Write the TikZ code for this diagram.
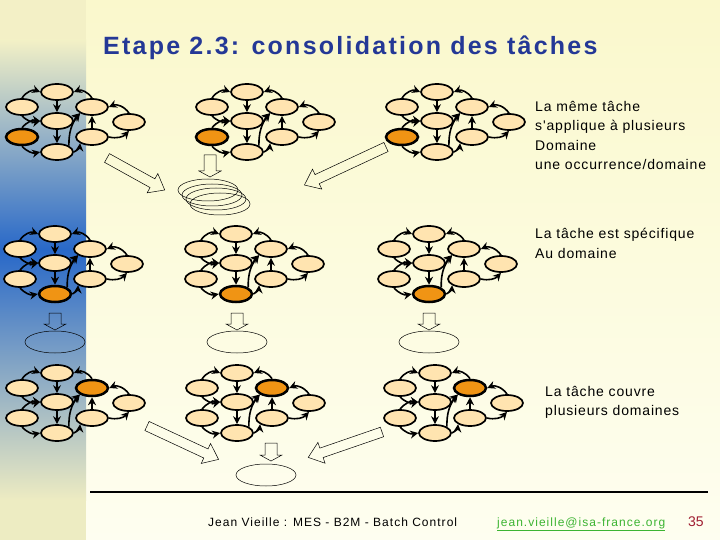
\documentclass[tikz,border=0pt]{standalone}
\usepackage{fontspec}
\setmainfont{Liberation Sans}
\newfontfamily\titlefont[LetterSpace=9]{Liberation Sans}
\newfontfamily\notefont[LetterSpace=6]{Liberation Sans}
\newfontfamily\footfont[LetterSpace=8.5]{Liberation Sans}
\usetikzlibrary{shapes.geometric,arrows.meta}
\definecolor{paper}{RGB}{250,248,204}
\definecolor{paperlow}{RGB}{254,254,240}
\definecolor{stripeblue}{RGB}{40,104,200}
\definecolor{titleblue}{RGB}{36,56,150}
\definecolor{peach}{RGB}{255,228,176}
\definecolor{hotorange}{RGB}{240,148,20}
\definecolor{mailgreen}{RGB}{60,180,50}
\definecolor{pagered}{RGB}{160,30,50}
\tikzset{
  task/.style={ellipse,draw,line width=1.7pt,fill=peach,minimum width=32pt,minimum height=16pt,inner sep=0pt},
  hot/.style={fill=hotorange,line width=2.5pt},
  pick/.code={\edef\pickname{#1}\ifx\pickname\hot\pgfkeysalso{hot}\fi},
  link/.style={line width=1.6pt,-{Stealth[length=8pt,width=8pt]}},
  hollow/.style={draw,line width=0.5pt},
  domring/.style={ellipse,draw,line width=0.5pt,minimum width=60pt,minimum height=22pt},
  note/.style={anchor=north west,align=left,inner sep=0pt,font=\notefont\fontsize{14}{19.5}\selectfont},
}
% x, y, angle, length, shaft half width, head half width, head length
\newcommand{\hollowarrow}[7]{\draw[hollow,shift={(#1,#2)},rotate=#3]
  (0,-#5) -- ({#4-#7},-#5) -- ({#4-#7},-#6) -- (#4,0) -- ({#4-#7},#6) -- ({#4-#7},#5) -- (0,#5) -- cycle;}

\begin{document}
\begin{tikzpicture}[x=1pt,y=-1pt]
\useasboundingbox (0,0) rectangle (720,540);
% background and left stripe
\shade[top color=paper,bottom color=paperlow] (0,0) rectangle (720,540);
\fill[paper!97!black] (0,0) rectangle (86,40);
\shade[top color=paper!97!black,bottom color=stripeblue] (0,40) rectangle (86,250);
\shade[top color=stripeblue,bottom color=paper!95!black] (0,250) rectangle (86,500);
\fill[paper!95!black] (0,500) rectangle (86,540);

\node[anchor=base west,inner sep=0pt,text=titleblue,font=\titlefont\bfseries\fontsize{25}{30}\selectfont] (title) at (103,55) {Etape 2.3: consolidation des tâches};

% the nine task graphs
\foreach \gx/\gy/\hot [count=\k] in {57/92/f,247/92/f,437/92/f,55/234/h,236/234/h,429/234/h,57/373/d,237/373/d,435/373/d}{
  \begin{scope}[shift={(\gx,\gy)}]
    \foreach \n/\px/\py in {a/0/0,b/-35/15,c/0/29,d/35/15,e/72/30,f/-35/45,g/35/45,h/0/60}
      \node[task,pick=\n] (g\k\n) at (\px,\py) {};
    \draw[link] (g\k b.north) to[bend left=40] (g\k a.west);
    \draw[link] (g\k d.north) to[bend right=40] (g\k a.east);
    \draw[link] (g\k a) -- (g\k c);
    \draw[link] (g\k b.south) to[bend right=30] (g\k c.west);
    \draw[link] (g\k f.north) to[bend left=30] (g\k c.west);
    \draw[link] (g\k c) -- (g\k h);
    \draw[link] (g\k f.south) to[bend right=30] (g\k h.west);
    \draw[link] (g\k h.east) to[bend right=30] (g\k g.south west);
    \draw[link] (g\k g) -- (g\k d);
    \draw[link] (g\k g.east) to[bend right=30] (g\k e.south);
    \draw[link] (g\k e.north) to[bend right=40] (g\k d.east);
    \draw[link] (g\k h.north east) to[bend left=20] (g\k d.south west);
    \draw[link] (g\k c.east) to[bend left=10] (g\k d.south west);
  \end{scope}
}

% row 1: one task, one occurrence per domain
\hollowarrow{107}{158}{-29}{66}{5}{11}{14}
\hollowarrow{386}{147}{205}{90}{5}{11}{14}
\hollowarrow{210}{155}{-90}{22}{6}{11}{6}
\foreach \ox/\oy [count=\j] in {208/190,212/195,216/199,220/204}
  \node[domring] (occ\j) at (\ox,\oy) {};

% row 2: one task per domain
\foreach \dx [count=\j] in {55,237,429}{
  \hollowarrow{\dx}{313}{-90}{17}{6}{11}{6}
  \node[domring] (dom\j) at (\dx,342) {};
}

% row 3: one task for several domains
\hollowarrow{147}{426}{-25}{79}{5}{11}{14}
\hollowarrow{382}{432}{199}{78}{5}{11}{14}
\hollowarrow{271}{443}{-90}{18}{6}{11}{6}
\node[domring] (shared) at (266,475) {};

\node[note] (same) at (535,101) {La même tâche\\s'applique à plusieurs\\Domaine\\une occurrence/domaine};
\node[note] (specific) at (535,228) {La tâche est spécifique\\Au domaine};
\node[note] (covers) at (545,386) {La tâche couvre\\plusieurs domaines};

% footer
\draw[line width=1.3pt] (90,492) -- (708,492);
\node[anchor=base west,inner sep=0pt,font=\footfont\fontsize{12}{14}\selectfont] (author) at (208,526) {Jean Vieille : MES - B2M - Batch Control};
\node[anchor=base west,inner sep=0pt,text=mailgreen,font=\footfont\fontsize{12}{14}\selectfont] (mail) at (497,526) {\underline{jean.vieille@isa-france.org}};
\node[anchor=base west,inner sep=0pt,text=pagered,font=\fontsize{14}{16}\selectfont] (page) at (688,526) {35};
\end{tikzpicture}
\end{document}
